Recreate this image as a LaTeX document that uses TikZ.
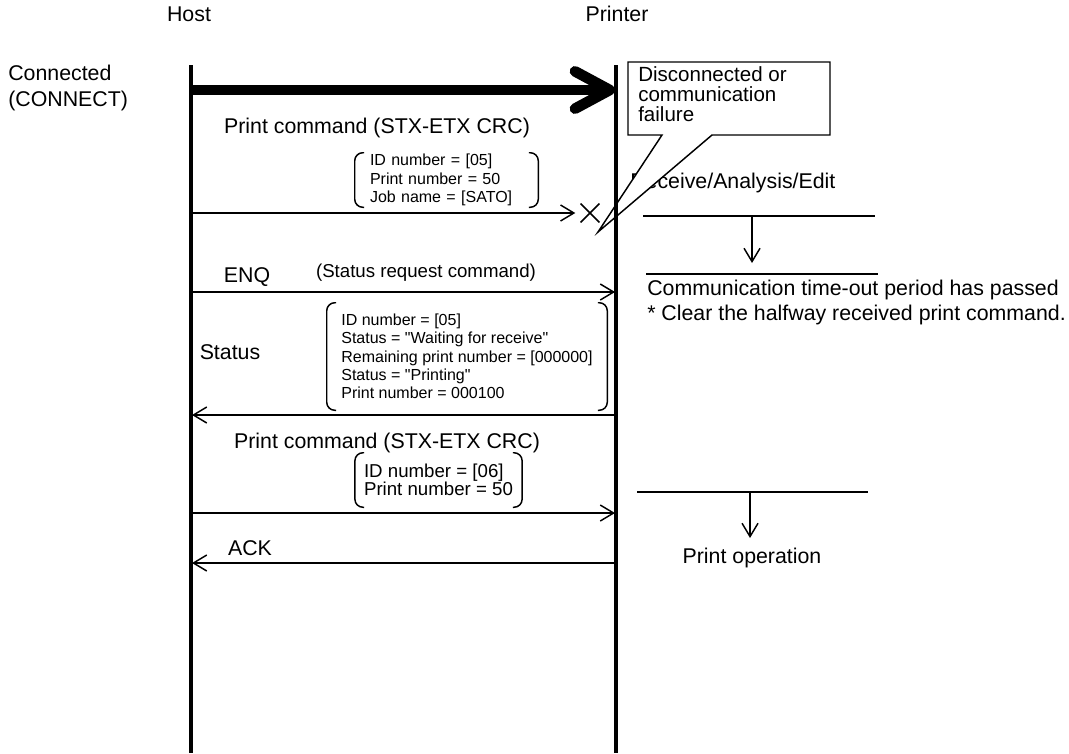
\documentclass[tikz,border=0pt]{standalone}
\usepackage{fontspec}
\setmainfont{Liberation Sans}
\usetikzlibrary{arrows.meta,shapes.misc}
\newcommand\straightquote{\XeTeXglyph\XeTeXcharglyph"22\relax}

\begin{document}
\begin{tikzpicture}[x=0.75pt,y=-0.75pt,
    every node/.style={inner sep=0pt, font=\fontsize{16}{18.75}\selectfont},
    lifeline/.style={line width=2.3pt},
    rule/.style={line width=1.1pt},
    msg/.style={rule, -{Straight Barb[length=10pt,width=12pt]}},
    connmsg/.style={line width=8pt, -{Straight Barb[length=26pt,width=28pt,round]}},
    small/.style={font=\fontsize{12}{13.75}\selectfont, align=left}]

\useasboundingbox (0,0) rectangle (1069,753);

% lifelines
\node (host) at (189,14) {Host};
\node (printer) at (617,14) {Printer};
\coordinate (hostTop) at (191,65);
\coordinate (hostEnd) at (191,753);
\coordinate (prnTop) at (616,65);
\coordinate (prnEnd) at (616,753);

\node[anchor=west, align=left, font=\fontsize{16}{20}\selectfont] (state) at (8,88) {Connected\\(CONNECT)};

% end points of the messages
\foreach \m/\y in {conn/90, cmd/213, enq/292, stat/415, cmd2/513, ack/563}{
    \coordinate (h-\m) at (192,\y);
    \coordinate (p-\m) at (615,\y);
}

\draw[connmsg] (h-conn) -- (p-conn);

% first print command
\node (cmdlbl) at (377,128) {Print command (STX-ETX CRC)};
\node[small, text width=114.75pt, inner xsep=11.25pt, minimum height=40.5pt] (b1) at (446.5,180)
    {ID number = [05]\\Print number = 50\\Job name = [SATO]};
\node[cross out, draw, rule, minimum size=13pt] (lost) at (590,213) {};
\draw[msg] (h-cmd) -- ([xshift=-4pt]lost.west);

% printer side
\node[anchor=west] (recv) at (630,183) {Receive/Analysis/Edit};
\coordinate (rl1) at (643,216);
\coordinate (rr1) at (875,216);
\coordinate (ra1) at (752,216);
\coordinate (rb1) at (752,263);
\draw[rule] (rl1) -- (rr1);
\draw[msg] (ra1) -- (rb1);
\coordinate (tl) at (646,274);
\coordinate (tr) at (878,274);
\draw[rule] (tl) -- (tr);
\node[anchor=west, align=left] (timeout) at (647,302.5)
    {Communication time-out period has passed\\* Clear the halfway received print command.};

% status request
\node (enq) at (247,277) {ENQ};
\node[font=\fontsize{14}{16}\selectfont] (enqnote) at (426,273) {(Status request command)};
\draw[msg] (h-enq) -- (p-enq);

\node (statlbl) at (230,352) {Status};
\node[small, minimum width=210pt, minimum height=80.25pt] (b2) at (467,356.5)
    {ID number = [05]\\Status = \straightquote Waiting for receive\straightquote\\Remaining print number = [000000]\\Status = \straightquote Printing\straightquote\\Print number = 000100};
\draw[msg] (p-stat) -- (h-stat);

% second print command
\node (cmd2lbl) at (387,443) {Print command (STX-ETX CRC)};
\node[font=\fontsize{14}{13.3}\selectfont, align=left, minimum width=125pt, minimum height=40.5pt] (b3) at (438.5,480)
    {ID number = [06]\\Print number = 50};
\draw[msg] (h-cmd2) -- (p-cmd2);

\coordinate (rl2) at (637,492);
\coordinate (rr2) at (868,492);
\coordinate (ra2) at (750,492);
\coordinate (rb2) at (750,538);
\draw[rule] (rl2) -- (rr2);
\draw[msg] (ra2) -- (rb2);
\node (printop) at (752,558) {Print operation};

\node (ack) at (250,548) {ACK};
\draw[msg] (p-ack) -- (h-ack);

% brackets round the data
\foreach \b in {b1,b2,b3}
    \draw[rule, rounded corners=6pt] ([xshift=7pt]\b.north west) -- (\b.north west) -- (\b.south west) -- ([xshift=7pt]\b.south west)
        ([xshift=-7pt]\b.north east) -- (\b.north east) -- (\b.south east) -- ([xshift=-7pt]\b.south east);

% callout
\coordinate (tip) at (598,232);
\filldraw[rule, fill=white] (628,62) -- (830,62) -- (830,135) -- (712,135) -- (tip) -- (662,135) -- (628,135) -- cycle;
\node[anchor=north west, align=left, font=\fontsize{15.4}{15.2}\selectfont] (fail) at (638,66)
    {Disconnected or\\communication\\failure};

\draw[lifeline] (hostTop) -- (hostEnd);
\draw[lifeline] (prnTop) -- (prnEnd);
\end{tikzpicture}
\end{document}
